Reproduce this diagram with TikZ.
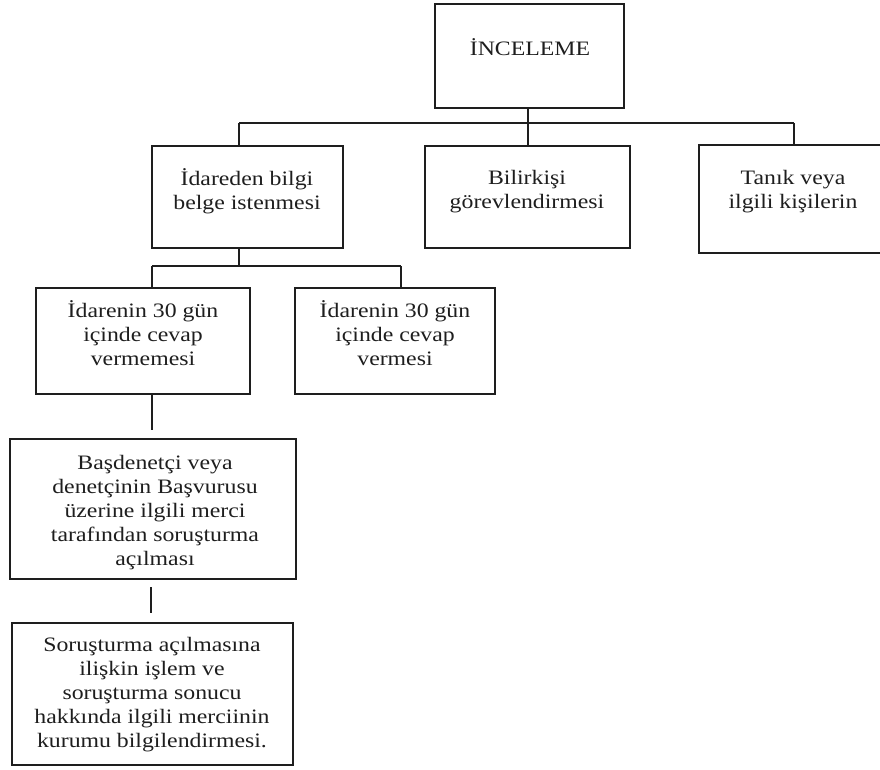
\documentclass[tikz,border=0pt]{standalone}
\usepackage{fontspec}
\setmainfont{Liberation Serif}[FakeStretch=1.16]
\definecolor{ink}{RGB}{30,30,30}
% centred lines whose baseline is the baseline of the first line
\newcommand\boxlines[1]{\begin{tabular}[t]{@{}c@{}}#1\end{tabular}}
\begin{document}
\begin{tikzpicture}[x=1pt,y=-1pt,
  box/.style={draw=ink, line width=1.3pt, anchor=north west, inner sep=0pt, outer sep=0pt},
  lbl/.style={anchor=base, inner sep=0pt, text=ink, font=\fontsize{20.5}{24}\selectfont},
  link/.style={draw=ink, line width=1.2pt}]
\useasboundingbox (0,0) rectangle (880,769);
\clip (0,0) rectangle (880,769);

% boxes
\node[box, minimum width=189pt, minimum height=104pt] (b1) at (435,4) {};
\node[box, minimum width=191pt, minimum height=102pt] (b2) at (152,146) {};
\node[box, minimum width=205pt, minimum height=102pt] (b3) at (425,146) {};
\node[box, minimum width=188pt, minimum height=108pt] (b4) at (699,145) {};
\node[box, minimum width=214pt, minimum height=106pt] (b5) at (36,288) {};
\node[box, minimum width=200pt, minimum height=106pt] (b6) at (295,288) {};
\node[box, minimum width=286pt, minimum height=140pt] (b7) at (10,439) {};
\node[box, minimum width=281pt, minimum height=142pt] (b8) at (12,623) {};

% texts
\node[lbl] (l1) at (530,55) {İNCELEME};
\node[lbl] (l2) at (247,185) {\boxlines{İdareden bilgi\\belge istenmesi}};
\node[lbl] (l3) at (527,184) {\boxlines{Bilirkişi\\görevlendirmesi}};
\node[lbl] (l4) at (793,184) {\boxlines{Tanık veya\\ilgili kişilerin}};
\node[lbl] (l5) at (143,317) {\boxlines{İdarenin 30 gün\\içinde cevap\\vermemesi}};
\node[lbl] (l6) at (395,317) {\boxlines{İdarenin 30 gün\\içinde cevap\\vermesi}};
\node[lbl] (l7) at (155,469) {\boxlines{Başdenetçi veya\\denetçinin Başvurusu\\üzerine ilgili merci\\tarafından soruşturma\\açılması}};
\node[lbl] (l8) at (152,651) {\boxlines{Soruşturma açılmasına\\ilişkin işlem ve\\soruşturma sonucu\\hakkında ilgili merciinin\\kurumu bilgilendirmesi.}};

% junction points of the tree
\coordinate (t2) at (239,123);
\coordinate (t3) at (528,123);
\coordinate (t4) at (794,123);
\coordinate (t5) at (152,266);
\coordinate (s2) at (239,266);
\coordinate (t6) at (401,266);
\coordinate (e5) at (152,430);
\coordinate (e7a) at (151,587);
\coordinate (e7b) at (151,613);

% first level
\draw[link] (t3 |- b1.south) -- (t3);
\draw[link] (t2) -- (t4);
\draw[link] (t2) -- (t2 |- b2.north);
\draw[link] (t3) -- (t3 |- b3.north);
\draw[link] (t4) -- (t4 |- b4.north);

% second level
\draw[link] (s2 |- b2.south) -- (s2);
\draw[link] (t5) -- (t6);
\draw[link] (t5) -- (t5 |- b5.north);
\draw[link] (t6) -- (t6 |- b6.north);

% lower chain
\draw[link] (e5 |- b5.south) -- (e5);
\draw[link] (e7a) -- (e7b);
\end{tikzpicture}
\end{document}
